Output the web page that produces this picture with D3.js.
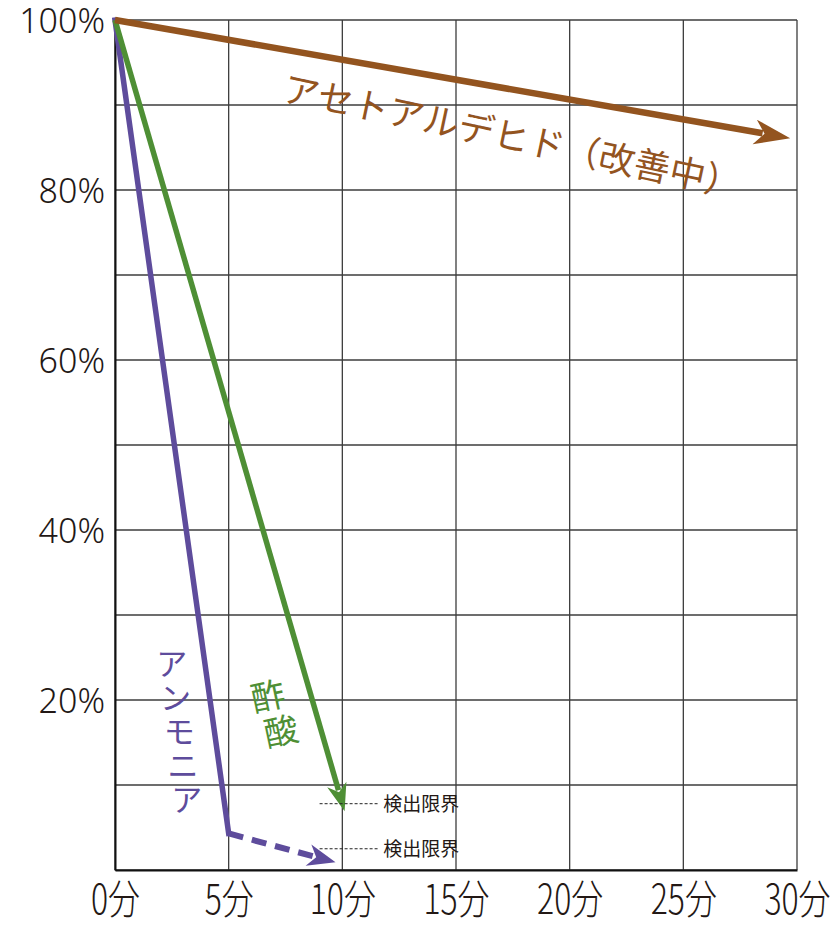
<!DOCTYPE html>
<html><head><meta charset="utf-8">
<script src="https://cdn.jsdelivr.net/npm/d3@7"></script>
<style>
html,body{margin:0;padding:0;background:#fff;}
svg{display:block;}
</style></head>
<body>
<script>
// ---- data ----
const xTicks = [0, 5, 10, 15, 20, 25, 30];
const xTickLabels = ["0分", "5分", "10分", "15分", "20分", "25分", "30分"];
const yGrid = [0, 10, 20, 30, 40, 50, 60, 70, 80, 90, 100];
const yTicks = [20, 40, 60, 80, 100];
const yTickLabels = ["20%", "40%", "60%", "80%", "100%"];

const acetaldehyde = [[0, 100], [29.7, 86.1]];
const aceticAcid = [[0, 100], [10.1, 6.9]];
const ammoniaSolid = [[0, 100], [5, 4.3]];
const ammoniaDashed = [[5, 4.3], [9.7, 0.9]];
const detectionLimits = [7.8, 2.5];
const detectionLabel = "検出限界";

const labelAcetaldehyde = "アセトアルデヒド（改善中）";
const labelAmmonia = "アンモニア";
const labelAcetic = "酢酸";

const colors = {brown: "#93541f", green: "#4e8f35", purple: "#5e4c9c", text: "#231815"};

// ---- layout ----
const W = 838, H = 925;
const L = 115, R = 797, T = 20, B = 870;
const x = d3.scaleLinear().domain([0, 30]).range([L, R]);
const y = d3.scaleLinear().domain([0, 100]).range([B, T]);

const svg = d3.select("body").append("svg").attr("width", W).attr("height", H);

// grid
const grid = svg.append("g");
grid.selectAll("line.h").data(yGrid).join("line")
  .attr("x1", L).attr("x2", R).attr("y1", d => y(d)).attr("y2", d => y(d))
  .attr("stroke", "#3d3d3d").attr("stroke-width", 1.3);
grid.selectAll("line.v").data(xTicks).join("line")
  .attr("y1", T).attr("y2", B).attr("x1", d => x(d)).attr("x2", d => x(d))
  .attr("stroke", "#3d3d3d").attr("stroke-width", 1.3);

// axes (d3 axes, styled)
const xAxis = svg.append("g").attr("transform", `translate(0,${B})`)
  .call(d3.axisBottom(x).tickValues(xTicks).tickSize(0).tickFormat((d, i) => xTickLabels[i]));
xAxis.select(".domain").attr("stroke", "#111").attr("stroke-width", 2);
xAxis.selectAll(".tick text").remove();
xAxis.selectAll(".tick").append("text")
  .attr("transform", "translate(0,44) scale(0.78,1)")
  .attr("text-anchor", "middle")
  .attr("fill", colors.text)
  .style("font-family", "'Noto Sans CJK JP', 'Noto Sans', sans-serif")
  .style("font-weight", "300")
  .style("font-size", "41px")
  .text((d, i) => xTickLabels[i]);

const yAxis = svg.append("g").attr("transform", `translate(${L},0)`)
  .call(d3.axisLeft(y).tickValues(yTicks).tickSize(0).tickPadding(10).tickFormat((d, i) => yTickLabels[i]));
yAxis.select(".domain").attr("stroke", "#111").attr("stroke-width", 2);
yAxis.selectAll(".tick text")
  .attr("fill", colors.text)
  .attr("dy", "0.36em")
  .style("font-family", "'Noto Sans', 'Open Sans', sans-serif")
  .style("font-weight", "300")
  .style("font-size", "34px");

// helper: line with arrowhead
function arrowLine(pts, color, width, headLen, headHalf, notch, dash) {
  const p = pts.map(d => [x(d[0]), y(d[1])]);
  const a = p[p.length - 2], b = p[p.length - 1];
  const ang = Math.atan2(b[1] - a[1], b[0] - a[0]);
  const back = headLen - notch + 2;
  const end = [b[0] - back * Math.cos(ang), b[1] - back * Math.sin(ang)];
  const linePts = p.slice(0, -1).concat([end]);
  svg.append("path")
    .attr("d", d3.line()(linePts))
    .attr("fill", "none").attr("stroke", color).attr("stroke-width", width)
    .attr("stroke-linejoin", "round")
    .attr("stroke-dasharray", dash || null);
  const deg = ang * 180 / Math.PI;
  svg.append("path")
    .attr("d", `M0,0 L${-headLen},${-headHalf} L${-headLen + notch},0 L${-headLen},${headHalf} Z`)
    .attr("fill", color)
    .attr("transform", `translate(${b[0]},${b[1]}) rotate(${deg})`);
}

// solid ammonia part (no head)
svg.append("path")
  .attr("d", d3.line()(ammoniaSolid.map(d => [x(d[0]), y(d[1])])))
  .attr("fill", "none").attr("stroke", colors.purple).attr("stroke-width", 5.5)
  .attr("stroke-linecap", "square");
arrowLine(ammoniaDashed, colors.purple, 6, 28, 11, 8, "15,9");
arrowLine(aceticAcid, colors.green, 5.5, 28, 10, 8);
arrowLine(acetaldehyde, colors.brown, 6.5, 36, 12.5, 10);

// detection limits
const dl = svg.append("g");
dl.selectAll("line").data(detectionLimits).join("line")
  .attr("x1", x(9.0)).attr("x2", x(11.55))
  .attr("y1", d => y(d)).attr("y2", d => y(d))
  .attr("stroke", "#222").attr("stroke-width", 1).attr("stroke-dasharray", "3,2");
dl.selectAll("text").data(detectionLimits).join("text")
  .attr("x", x(11.8)).attr("y", d => y(d)).attr("dy", "0.36em")
  .attr("fill", colors.text)
  .style("font-family", "'Noto Sans CJK JP', sans-serif")
  .style("font-size", "19px")
  .text(detectionLabel);

// acetaldehyde label (rotated along line)
svg.append("text")
  .attr("transform", `translate(${x(7.3)},${y(90.5)}) rotate(12)`)
  .attr("fill", colors.brown)
  .style("font-family", "'Noto Sans CJK JP', sans-serif")
  .style("font-size", "36px")
  .text(labelAcetaldehyde);

// ammonia label (vertical, tilted column)
const amChars = Array.from(labelAmmonia);
svg.append("g").selectAll("text").data(amChars).join("text")
  .attr("x", (d, i) => x(2.5) + i * 3.7)
  .attr("y", (d, i) => y(23.0) + i * 34)
  .attr("text-anchor", "middle")
  .attr("fill", colors.purple)
  .style("font-family", "'Noto Sans CJK JP', sans-serif")
  .style("font-size", "31px")
  .text(d => d);

// acetic acid label
const acChars = Array.from(labelAcetic);
svg.append("g").selectAll("text").data(acChars).join("text")
  .attr("transform", (d, i) => `translate(${x(6.85) + i * 13},${y(19.0) + i * 35}) rotate(-12)`)
  .attr("text-anchor", "middle")
  .attr("fill", colors.green)
  .style("font-family", "'Noto Sans CJK JP', sans-serif")
  .style("font-size", "34px")
  .text(d => d);
</script>
</body></html>
